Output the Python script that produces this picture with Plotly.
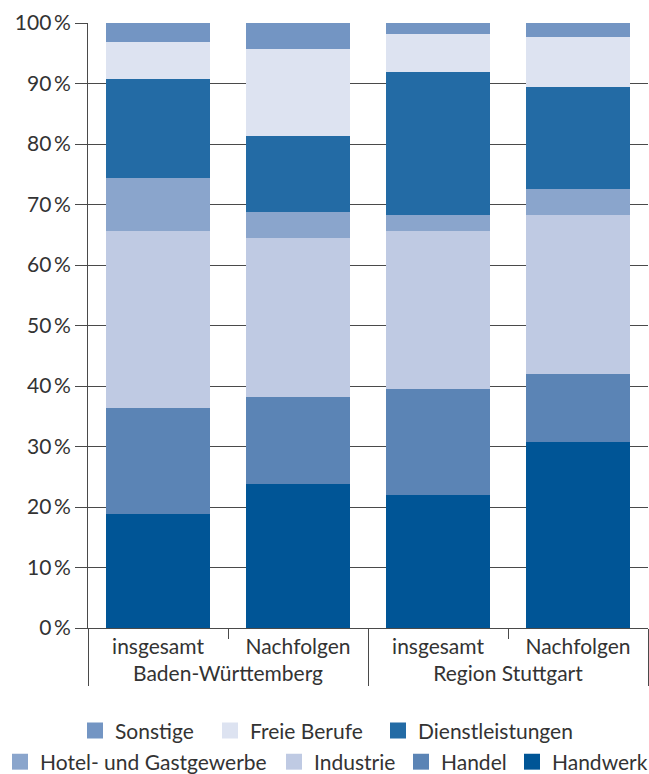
import plotly.graph_objects as go

regions = ["Baden-Württemberg", "Baden-Württemberg", "Region Stuttgart", "Region Stuttgart"]
groups = ["insgesamt", "Nachfolgen", "insgesamt", "Nachfolgen"]

handwerk = [18.8, 23.8, 22.0, 30.7]
handel = [17.6, 14.4, 17.5, 11.3]
industrie = [29.3, 26.3, 26.1, 26.3]
hotel = [8.7, 4.3, 2.7, 4.3]
dienst = [16.3, 12.5, 23.6, 16.8]
freie = [6.2, 14.4, 6.3, 8.3]
sonstige = [3.1, 4.3, 1.8, 2.3]

y_ticks = [0, 10, 20, 30, 40, 50, 60, 70, 80, 90, 100]

series_names = ["Handwerk", "Handel", "Industrie", "Hotel- und Gastgewerbe",
                "Dienstleistungen", "Freie Berufe", "Sonstige"]
series_values = [handwerk, handel, industrie, hotel, dienst, freie, sonstige]
series_colors = ["#005596", "#5b84b5", "#bfcae3", "#8aa5cc", "#236ba5", "#dde3f1", "#7395c3"]

# legend placement (container coords): left x, centre y
legend_pos = {
    "Sonstige": (75 / 649, 0.0556),
    "Freie Berufe": (210 / 649, 0.0556),
    "Dienstleistungen": (378 / 649, 0.0556),
    "Hotel- und Gastgewerbe": (0 / 649, 0.0155),
    "Industrie": (274 / 649, 0.0155),
    "Handel": (401 / 649, 0.0155),
    "Handwerk": (512 / 649, 0.0155),
}

FONT = "Lato, Open Sans, sans-serif"
FS = 21

fig = go.Figure()
for name, vals, color in zip(series_names, series_values, series_colors):
    fig.add_trace(go.Bar(
        x=[regions, groups], y=vals, name=name,
        marker=dict(color=color, line=dict(width=0)),
        showlegend=False,
    ))

legend_layout = {}
for i, (name, color) in enumerate(zip(series_names, series_colors)):
    key = "legend" if i == 0 else f"legend{i + 1}"
    fig.add_trace(go.Scatter(
        x=[[regions[0]], [groups[0]]], y=[None], name=name, mode="markers",
        marker=dict(symbol="square", size=19, color=color, line=dict(width=0)),
        legend=key, showlegend=True, hoverinfo="skip",
    ))
    lx, ly = legend_pos[name]
    legend_layout[key] = dict(
        orientation="h", xref="container", yref="container",
        x=lx, xanchor="left", y=ly, yanchor="middle",
        font=dict(size=FS, color="#333333"), itemwidth=30,
        itemsizing="trace", bgcolor="rgba(0,0,0,0)", borderwidth=0,
    )

fig.update_layout(
    width=649, height=774,
    barmode="stack", bargap=0.264,
    plot_bgcolor="white", paper_bgcolor="white",
    margin=dict(l=88, r=1, t=23, b=146, autoexpand=False),
    font=dict(family=FONT, size=FS, color="#333333"),
    **legend_layout,
)

fig.update_yaxes(
    range=[0, 100], tickvals=y_ticks, ticktext=[f"{v}\u2009%" for v in y_ticks],
    showgrid=True, gridcolor="#4a4a4a", gridwidth=1,
    ticks="outside", ticklen=12, tickcolor="#4a4a4a",
    showline=True, linecolor="#4a4a4a", linewidth=1,
    zeroline=False, tickfont=dict(size=FS, color="#333333"),
)
fig.update_xaxes(
    type="multicategory", showline=True, linecolor="#4a4a4a", linewidth=1,
    ticks="outside", ticklen=10, tickcolor="#4a4a4a",
    showdividers=True, dividercolor="#4a4a4a", dividerwidth=1,
    tickfont=dict(size=FS, color="#333333"),
)

fig.write_html("out.html")
